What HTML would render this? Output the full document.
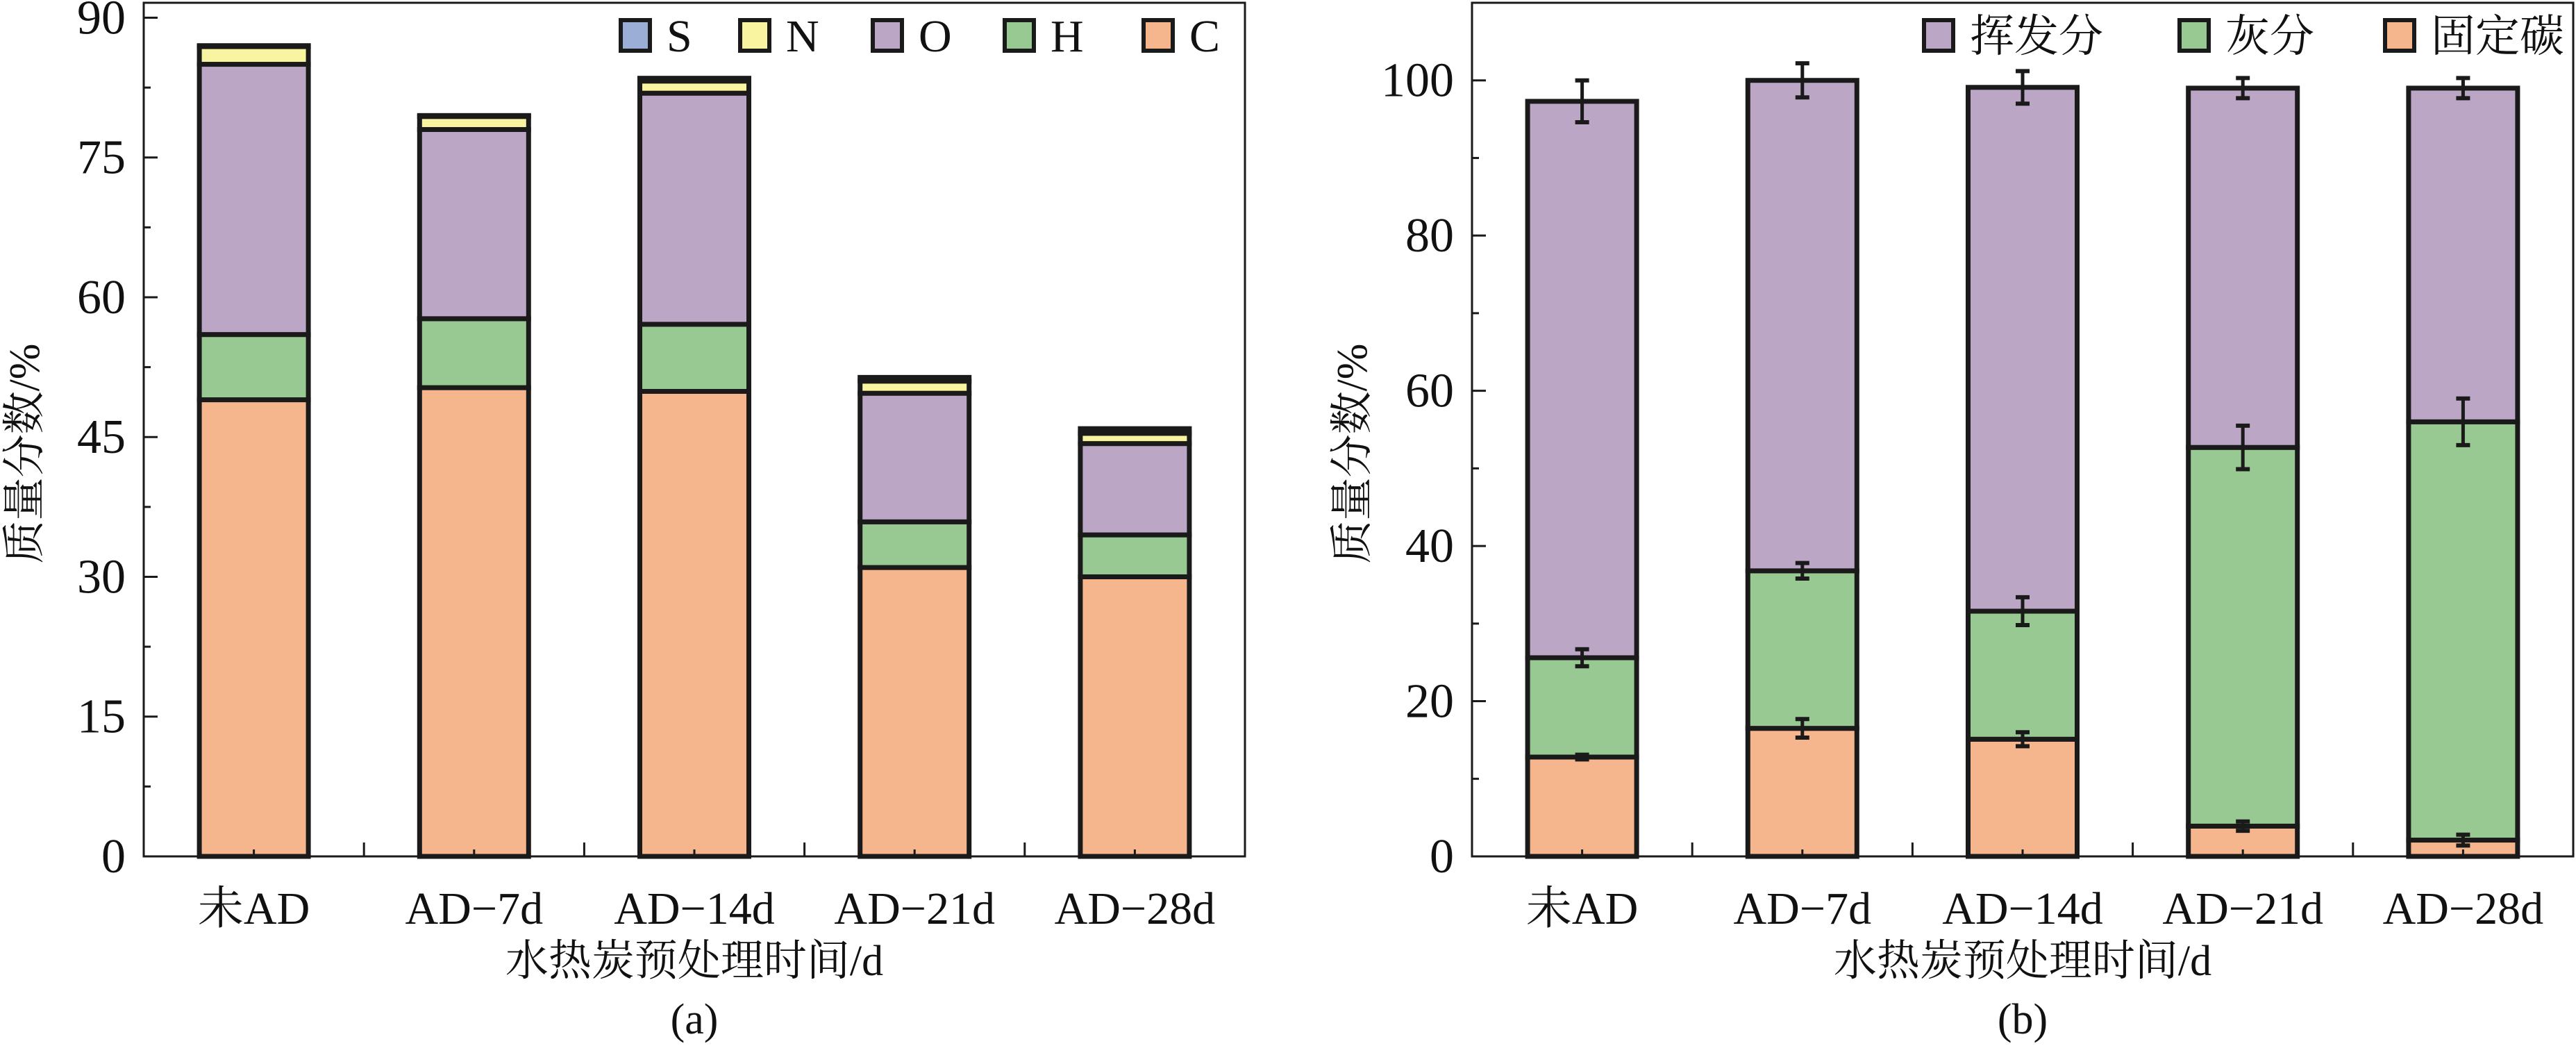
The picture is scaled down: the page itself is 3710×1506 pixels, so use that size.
<!DOCTYPE html>
<html><head><meta charset="utf-8"><style>
html,body{margin:0;padding:0;background:#fff;}
svg{display:block;}
text{font-family:"Liberation Serif","Noto Serif CJK SC","Noto Sans CJK SC",serif;fill:#111;}
</style></head><body>
<svg id="chart" width="3710" height="1506" viewBox="0 0 3710 1506" xmlns="http://www.w3.org/2000/svg">
<g id="pa"></g>
<g id="pb"></g>
</svg>
<script>
// shared
const categories = ["未AD","AD\u22127d","AD\u221214d","AD\u221221d","AD\u221228d"];
// panel a (elemental, %)
const aSeries = ["C","H","O","N","S"];
const aC = [49.0, 50.3, 49.9, 31.0, 30.0];
const aH = [7.0, 7.4, 7.2, 4.9, 4.5];
const aO = [29.0, 20.3, 24.8, 13.8, 9.8];
const aN = [1.9, 1.4, 1.3, 1.3, 1.1];
const aS = [0.1, 0.1, 0.3, 0.4, 0.5];
const aTicks = [0,15,30,45,60,75,90];
// panel b (proximate, %)
const bSeries = ["固定碳","灰分","挥发分"];
const bFixed = [12.8, 16.5, 15.1, 3.9, 2.1];
const bAsh = [12.8, 20.3, 16.5, 48.8, 53.9];
const bVol = [71.7, 63.2, 67.5, 46.3, 43.0];
const bFixedErr = [0.3, 1.2, 0.9, 0.6, 0.7];
const bAshErr = [1.1, 1.0, 1.8, 2.8, 3.0];
const bVolErr = [2.7, 2.2, 2.1, 1.3, 1.3];
const bTicks = [0,20,40,60,80,100];

const NS="http://www.w3.org/2000/svg";
function mk(parent,tag,attrs,txt){const e=document.createElementNS(NS,tag);for(const k in attrs)e.setAttribute(k,attrs[k]);if(txt!==undefined)e.textContent=txt;parent.appendChild(e);return e;}
const colors={C:"#F5B68D",H:"#98C992",O:"#BCA6C6",N:"#F8F4A0",S:"#9AAED6","固定碳":"#F5B68D","灰分":"#98C992","挥发分":"#BCA6C6"};

function drawPanel(g,opt){
  const L=opt.left,R=opt.right,T=4,B=1233;
  const y=v=>B-(v/opt.ymax)*(B-T) ;
  const band=(R-L)/categories.length;
  const xc=i=>L+band*(i+0.5);
  const bw=157;
  categories.forEach((c,i)=>{
    let base=0;
    opt.series.forEach((s,si)=>{
      const v=opt.values[si][i];
      const r=mk(g,"rect",{x:xc(i)-bw/2,y:y(base+v),width:bw,height:y(base)-y(base+v),fill:colors[s],stroke:"#1a1a1a","stroke-width":7});
      
      
      base+=v;
    });
  });
  if(opt.errs){
    categories.forEach((c,i)=>{
      let base=0;
      opt.series.forEach((s,si)=>{
        base+=opt.values[si][i];
        const e=opt.errs[si][i];
        const eg=mk(g,"g",{stroke:"#1a1a1a","stroke-width":5});
        
        
        const x=xc(i);
        mk(eg,"line",{x1:x,x2:x,y1:y(base+e),y2:y(base-e)});
        mk(eg,"line",{x1:x-10,x2:x+10,y1:y(base+e),y2:y(base+e),"stroke-width":6});
        mk(eg,"line",{x1:x-10,x2:x+10,y1:y(base-e),y2:y(base-e),"stroke-width":6});
      });
    });
  }
  const fr=mk(g,"rect",{x:L,y:T,width:R-L,height:B-T,fill:"none",stroke:"#1a1a1a","stroke-width":3});
  
  
  opt.ticks.forEach((t,k)=>{
    mk(g,"line",{x1:L,x2:L+20,y1:y(t),y2:y(t),stroke:"#1a1a1a","stroke-width":3});
    const m=t+opt.step/2;
    if(y(m)>T) mk(g,"line",{x1:L,x2:L+10,y1:y(m),y2:y(m),stroke:"#1a1a1a","stroke-width":3});
    const tl=mk(g,"text",{x:L-26,y:y(t)+23,"font-size":70,"text-anchor":"end"},String(t));
    
    
  });
  categories.forEach((c,i)=>{
    if(i>0) mk(g,"line",{x1:L+band*i,x2:L+band*i,y1:B,y2:B-20,stroke:"#1a1a1a","stroke-width":3});
    mk(g,"line",{x1:xc(i),x2:xc(i),y1:B,y2:B-10,stroke:"#1a1a1a","stroke-width":3});
    const tl=mk(g,"text",{x:xc(i),y:1330,"font-size":66,"text-anchor":"middle"},c);
    
    
  });
  const xt=mk(g,"text",{x:(L+R)/2,y:1404,"font-size":62,"text-anchor":"middle"},"水热炭预处理时间/d");
  
  
  const cap=mk(g,"text",{x:(L+R)/2,y:1488,"font-size":62,"text-anchor":"middle"},opt.caption);
  
  
  const yt=mk(g,"text",{x:0,y:0,"font-size":62,"text-anchor":"middle",transform:`translate(${opt.ytx},653) rotate(-90)`},"质量分数/%");
  
  
  opt.legend.forEach((it)=>{
    const lg=mk(g,"g",{});
    
    
    mk(lg,"rect",{x:it.x,y:29,width:42,height:44,fill:colors[it.s],stroke:"#1a1a1a","stroke-width":6});
    mk(lg,"text",{x:it.x+66,y:74,"font-size":it.fs},it.s);
  });
}
drawPanel(document.getElementById('pa'),{left:207,right:1793,ymax:91.6,ticks:aTicks,step:15,series:aSeries,values:[aC,aH,aO,aN,aS],caption:"(a)",ytx:56,
  legend:[{s:"S",x:894,fs:66},{s:"N",x:1066,fs:66},{s:"O",x:1257,fs:66},{s:"H",x:1447,fs:66},{s:"C",x:1647,fs:66}]});
drawPanel(document.getElementById('pb'),{left:2120,right:3706,ymax:110.0,ticks:bTicks,step:20,series:bSeries,values:[bFixed,bAsh,bVol],errs:[bFixedErr,bAshErr,bVolErr],caption:"(b)",ytx:1968,
  legend:[{s:"挥发分",x:2771,fs:64},{s:"灰分",x:3139,fs:64},{s:"固定碳",x:3435,fs:64}]});
</script>
</body></html>
